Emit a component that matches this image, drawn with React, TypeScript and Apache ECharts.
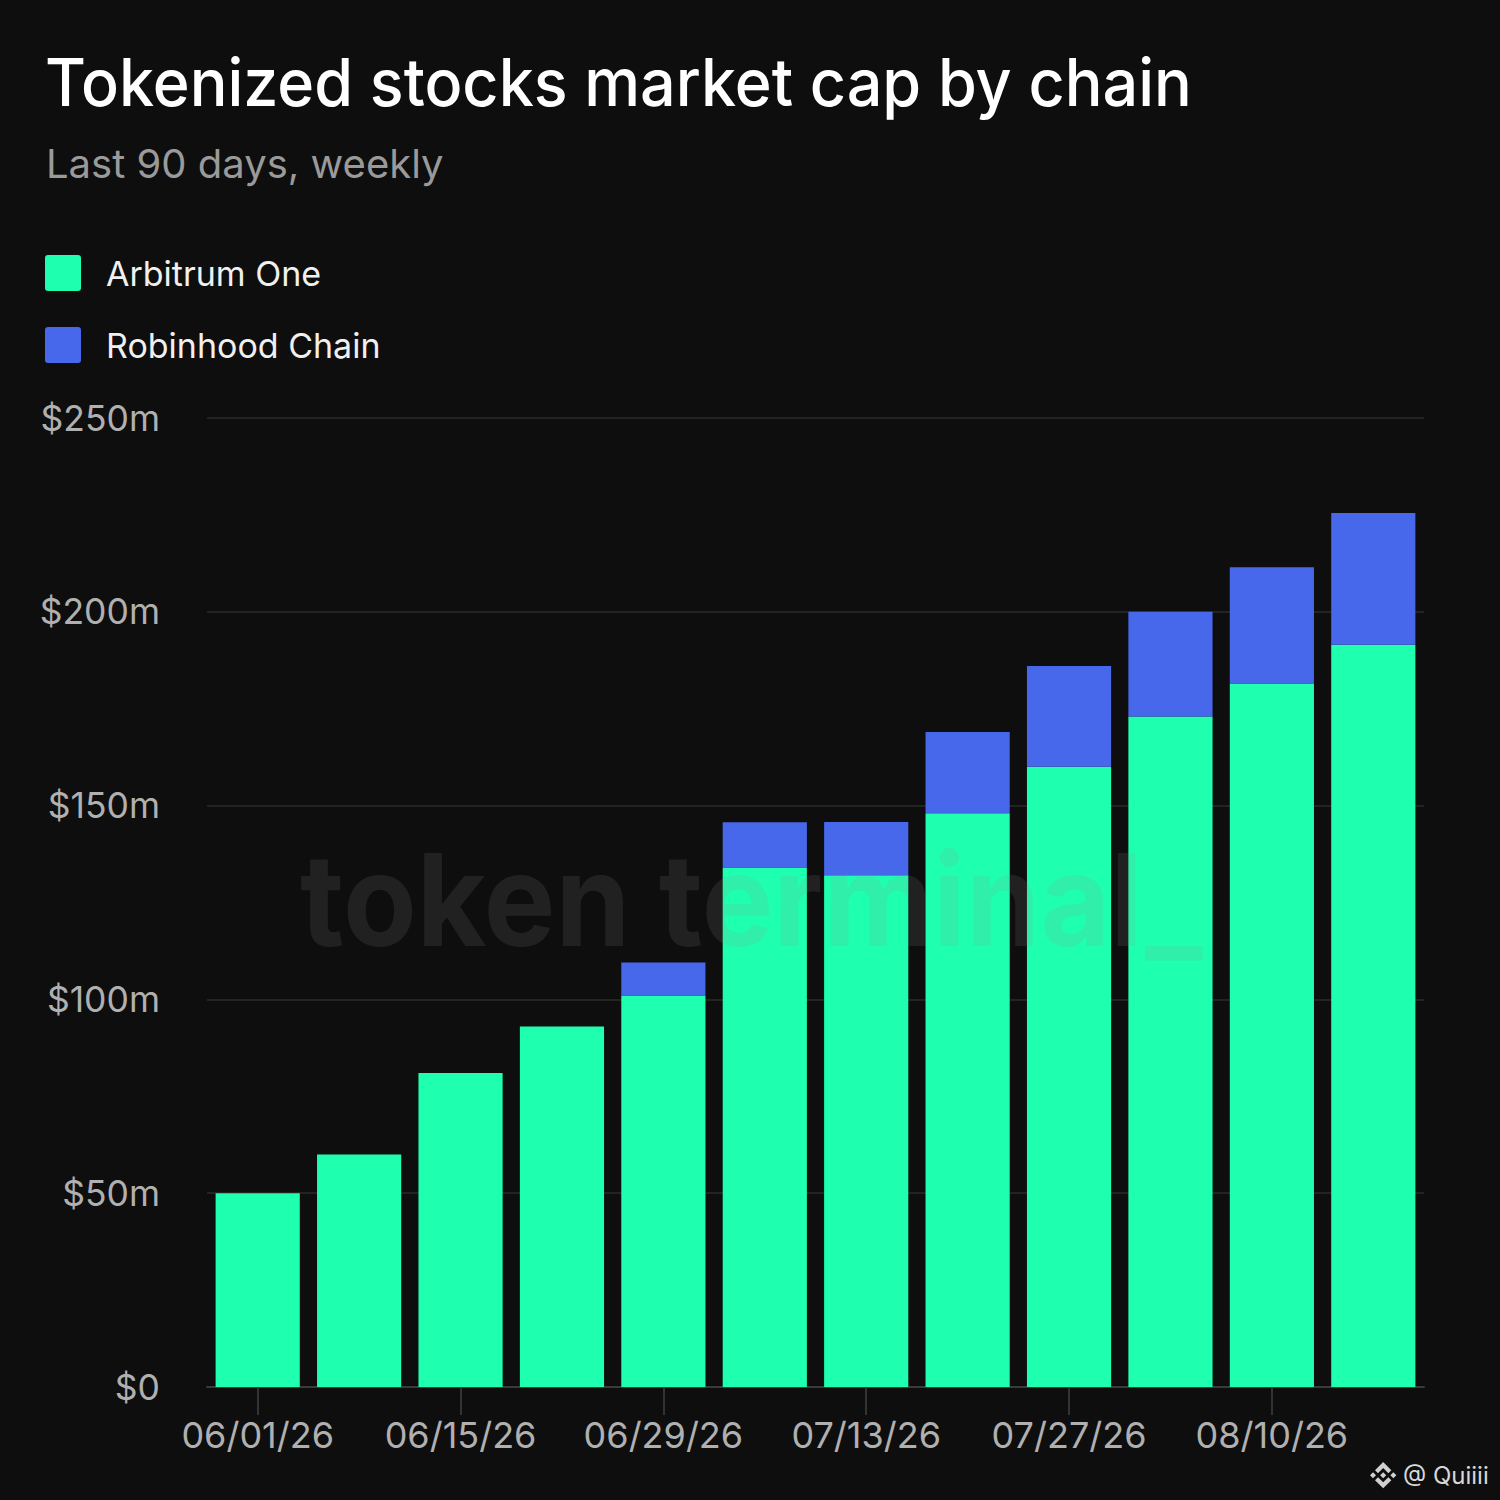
import React, { useEffect, useRef } from "react";
import * as echarts from "echarts";

const dates = [
  "06/01/26", "06/08/26", "06/15/26", "06/22/26", "06/29/26", "07/06/26",
  "07/13/26", "07/20/26", "07/27/26", "08/03/26", "08/10/26", "08/17/26",
];
const arbitrumOne = [50, 60, 81, 93, 101, 134, 132, 148, 160, 173, 181.5, 191.5];
const robinhoodChain = [0, 0, 0, 0, 8.5, 11.7, 13.8, 21, 26, 27, 30, 34];
const yTicks = [0, 50, 100, 150, 200, 250];

const BINANCE =
  "M38.171 53.203L62.759 28.616l24.6 24.6 14.306-14.307L62.759 0 23.864 38.896zM0 62.759l14.307-14.308 14.306 14.307-14.307 14.307zm38.171 9.555L62.759 96.9l24.6-24.599 14.314 14.3-.007.007L62.759 125.52 23.864 86.625l-.02-.02zM96.9 62.765l14.307-14.307 14.306 14.306-14.306 14.307zm-19.63-.012h.006L62.759 48.234 52.03 58.96l-1.233 1.234-2.54 2.54-.021.02.02.021 14.503 14.504 14.518-14.518.007-.008z";

const ICON = "path://M3,0 H33 Q36,0 36,3 V33 Q36,36 33,36 H3 Q0,36 0,33 V3 Q0,0 3,0 Z";

let registered = false;

export default function App() {
  const ref = useRef<HTMLDivElement>(null);
  useEffect(() => {
    if (!ref.current) return;
    if (!registered) {
      echarts.graphic.registerShape("binance", echarts.graphic.extendPath(BINANCE, {}) as any);
      registered = true;
    }
    const chart = echarts.init(ref.current, undefined, { renderer: "svg" });
    const font = "Inter, 'Noto Sans', sans-serif";
    chart.setOption({
      animation: false,
      backgroundColor: "#0e0e0e",
      textStyle: { fontFamily: font },
      grid: { left: 207, right: 76, top: 418, bottom: 113, containLabel: false },
      legend: {
        orient: "vertical",
        left: 40,
        top: 250,
        itemWidth: 36,
        itemHeight: 36,
        itemGap: 36,
        icon: ICON,
        selectedMode: false,
        textStyle: { color: "#f0f0f0", fontSize: 34, fontFamily: font, padding: [0, 0, 0, 20] },
        data: ["Arbitrum One", "Robinhood Chain"],
      },
      xAxis: {
        type: "category",
        data: dates,
        axisLine: { lineStyle: { color: "#3a3a3a", width: 2 } },
        axisTick: { show: true, alignWithLabel: true, interval: 1, length: 28, lineStyle: { color: "#333", width: 2 } },
        axisLabel: { interval: 1, color: "#b0b0b0", fontSize: 36, margin: 30, fontFamily: font },
      },
      yAxis: {
        type: "value",
        min: yTicks[0],
        max: yTicks[yTicks.length - 1],
        interval: 50,
        axisLine: { show: false },
        axisTick: { show: false },
        splitLine: { lineStyle: { color: "#232323", width: 2 } },
        axisLabel: {
          color: "#b0b0b0",
          fontSize: 35.5,
          margin: 47,
          fontFamily: font,
          formatter: (v: number) => "$" + v + (v === 0 ? "" : "m"),
        },
      },
      series: [
        {
          name: "Arbitrum One",
          type: "bar",
          stack: "total",
          data: arbitrumOne,
          barCategoryGap: "17%",
          itemStyle: { color: "#1effb0" },
        },
        {
          name: "Robinhood Chain",
          type: "bar",
          stack: "total",
          data: robinhoodChain,
          itemStyle: { color: "#4868ec" },
        },
      ],
      graphic: [
        {
          type: "text",
          x: 45,
          y: 82,
          z: 10,
          scaleX: 0.952,
          style: {
            text: "Tokenized stocks market cap by chain",
            fill: "#ffffff",
            font: `500 66px ${font}`,
            textVerticalAlign: "middle",
          },
        },
        {
          type: "text",
          x: 46,
          y: 163,
          z: 10,
          style: {
            text: "Last 90 days, weekly",
            fill: "#9a9a9a",
            font: `400 40px ${font}`,
            textVerticalAlign: "middle",
          },
        },
        {
          type: "text",
          x: 300,
          y: 900,
          z: 100,
          scaleX: 0.94,
          silent: true,
          style: {
            text: "token terminal_",
            fill: "rgba(150,150,150,0.15)",
            font: `700 128px ${font}`,
            textVerticalAlign: "middle",
          },
        },
        {
          type: "binance",
          x: 1370,
          y: 1462,
          scaleX: 0.21,
          scaleY: 0.21,
          z: 10,
          style: { fill: "#d0d0d0" },
        },
        {
          type: "text",
          x: 1403,
          y: 1475,
          z: 10,
          style: {
            text: "@ Quiiii",
            fill: "#d8d8d8",
            font: `400 24px ${font}`,
            textVerticalAlign: "middle",
          },
        },
      ],
    });
    return () => chart.dispose();
  }, []);
  return (
    <div
      ref={ref}
      style={{ position: "fixed", left: 0, top: 0, width: 1500, height: 1500 }}
    />
  );
}
